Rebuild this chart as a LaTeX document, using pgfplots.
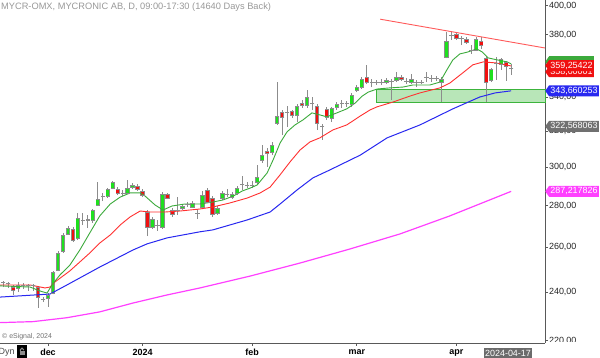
\documentclass[border=0pt]{standalone}
\usepackage{pgfplots}
\pgfplotsset{compat=1.18}
\usepackage{pgfplotstable}
\usepackage{fontspec}
\setmainfont{Liberation Sans}
\usetikzlibrary{shapes.symbols}
\definecolor{cgreen}{HTML}{1EE01E}
\definecolor{cred}{HTML}{F01010}
\definecolor{cgray}{HTML}{8C8C8C}
\definecolor{mamag}{HTML}{FF40FF}
\definecolor{mablue}{HTML}{2828F0}
\definecolor{mared}{HTML}{FF3030}
\definecolor{magreen}{HTML}{3CAA3C}
\definecolor{boxgreen}{HTML}{B8E6B8}
\definecolor{boxedge}{HTML}{3CB43C}
\definecolor{trend}{HTML}{FF5A5A}
\definecolor{lblgray}{HTML}{707070}

\pgfplotstableread{
x o h l c
-9 243.9 244.8 242.1 243.9
-8 243.5 244.3 241.7 243.5
-7 242.1 243.0 238.7 240.8
-6 241.7 244.3 239.9 243.0
-5 243.0 243.9 241.2 243.0
-4 242.6 243.5 240.4 242.6
-3 242.6 243.5 240.4 242.6
-2 242.1 242.6 233.3 237.8
-1 237.0 237.8 235.7 237.0
0 237.4 239.5 233.7 238.7
1 239.5 249.2 239.0 248.7
2 249.6 258.0 249.0 257.3
3 257.8 266.5 257.3 265.7
4 266.2 270.0 265.7 268.6
5 268.1 269.5 262.3 263.3
6 264.3 276.3 263.3 273.9
7 272.9 276.3 270.4 272.9
8 272.9 275.4 269.1 273.4
9 272.9 278.3 271.4 277.8
10 280.3 292.0 279.8 283.3
11 284.5 286.4 282.3 284.5
12 284.8 288.9 283.8 288.4
13 288.9 292.6 288.4 291.6
14 288.4 289.4 285.3 286.4
15 286.4 287.9 284.8 286.4
16 286.4 293.1 285.8 288.9
17 289.4 291.6 288.4 290.5
18 289.9 291.0 287.4 288.4
19 287.4 288.4 284.3 285.3
20 276.8 277.8 265.2 269.5
21 269.5 274.4 268.6 273.4
22 270.5 272.9 267.6 270.5
23 269.5 286.9 268.6 285.8
24 285.8 286.4 283.3 283.8
25 277.8 278.8 274.4 275.4
26 277.8 284.3 275.4 277.8
27 278.8 280.8 277.8 279.8
28 280.8 281.8 279.3 280.8
29 279.3 282.3 278.8 281.3
30 276.3 278.3 273.4 275.9
31 279.3 287.4 278.3 285.3
32 287.9 288.9 281.3 281.8
33 283.8 284.8 274.4 275.4
34 276.3 279.8 275.4 278.8
35 283.8 287.4 282.8 286.4
36 285.5 288.4 284.3 285.5
37 284.3 286.9 283.3 285.8
38 286.4 289.9 285.3 288.9
39 290.7 295.2 287.9 290.7
40 290.5 292.0 288.9 290.5
41 290.3 292.6 288.9 290.3
42 292.0 301.1 291.0 294.7
43 303.8 312.0 302.2 306.0
44 308.7 310.3 300.0 307.5
45 308.1 313.7 306.4 312.0
46 324.5 349.1 323.4 328.6
47 330.4 332.2 317.6 327.5
48 330.4 334.6 322.2 330.4
49 331.0 332.2 327.5 329.2
50 329.2 335.8 325.1 334.0
51 336.3 338.1 333.4 334.6
52 334.6 344.2 333.4 339.9
53 336.3 339.9 332.2 336.3
54 334.0 335.8 320.5 324.0
55 322.8 324.0 314.8 322.8
56 332.2 334.0 326.3 327.5
57 326.9 334.0 325.1 332.8
58 333.4 336.9 332.2 335.2
59 335.8 338.1 333.4 335.8
60 335.8 337.5 334.0 335.8
61 335.2 342.4 334.0 341.1
62 344.2 347.3 342.9 345.5
63 345.5 352.3 344.8 351.0
64 352.3 360.0 347.9 349.1
65 349.1 351.0 346.0 349.1
66 349.1 350.4 347.3 349.1
67 349.1 351.0 347.3 349.1
68 349.1 351.7 347.9 350.4
69 349.7 351.0 338.1 349.7
70 350.4 355.5 349.1 352.3
71 352.3 353.6 349.8 351.0
72 349.7 351.7 347.9 349.7
73 349.1 354.2 347.9 351.0
74 349.1 350.4 346.0 349.1
75 349.1 350.4 347.9 349.1
76 352.2 355.5 349.1 352.2
77 351.7 353.6 349.1 351.7
78 351.7 352.9 349.8 351.7
79 349.1 352.3 336.9 351.0
80 364.9 381.8 364.1 375.7
81 379.7 381.8 376.4 379.7
82 379.8 381.1 376.4 377.7
83 377.6 379.1 373.0 377.6
84 377.0 378.4 373.7 374.4
85 369.6 373.0 367.1 369.6
86 369.7 378.4 369.0 377.0
87 375.7 378.4 370.3 373.0
88 364.5 365.8 336.9 349.1
89 350.4 358.1 349.1 357.4
90 361.2 365.2 350.4 361.2
91 360.0 364.5 356.8 363.2
92 361.3 362.6 349.8 358.7
93 358.0 360.6 353.6 358.0
}\candles

\begin{document}
\begin{tikzpicture}
\useasboundingbox (0bp,0bp) rectangle (600bp,358bp);
\fill[white] (0bp,0bp) rectangle (600bp,358bp);
\begin{axis}[
  at={(0bp,15bp)}, anchor=south west,
  width=545bp, height=343bp, scale only axis,
  ymode=log,
  xmin=-9.64, xmax=99.8, ymin=219.1, ymax=404.2,
  axis x line*=bottom, axis y line*=right,
  axis line style={draw=black!65, line width=0.7bp},
  clip=false,
  /pgf/number format/assume math mode=true,
  ytick={220,240,260,280,300,320,340,360,380,400},
  yticklabels={{220,00},{240,00},{260,00},{280,00},{300,00},{320,00},{340,00},{360,00},{380,00},{400,00}},
  minor ytick={},
  xtick={0,19,41,62,82},
  xticklabels={dec,2024,feb,mar,apr},
  tick align=outside,
  major tick length=3bp,
  tick style={draw=black!65, line width=0.6bp},
  yticklabel style={font=\fontsize{9}{10}\selectfont, text=black!85, xshift=-2.5bp},
  xticklabel style={font=\bfseries\fontsize{9}{10}\selectfont, text=black},
]
% support zone
\addplot[fill=boxgreen, draw=boxedge, line width=0.8bp, forget plot]
  coordinates {(65.86,336.7) (99.8,336.7) (99.8,344.8) (65.86,344.8)} --cycle;

% wicks
\addplot[draw=none, mark=none, forget plot,
  error bars/.cd, y dir=plus, y explicit, error mark=none,
  error bar style={draw=cgray, line width=0.8bp}]
  table[x=x, y=l, y error plus expr={\thisrow{h}-\thisrow{l}}] {\candles};
% body outline
\addplot[draw=none, mark=none, forget plot,
  error bars/.cd, y dir=plus, y explicit, error mark=none,
  error bar style={draw=cgray, line width=4.4bp}]
  table[x=x, y expr={min(\thisrow{o},\thisrow{c})}, y error plus expr={abs(\thisrow{c}-\thisrow{o})}] {\candles};
% up bodies
\addplot[draw=none, mark=none, forget plot,
  error bars/.cd, y dir=plus, y explicit, error mark=none,
  error bar style={draw=cgreen, line width=2.8bp}]
  table[x=x, y=o, y error plus expr={max(\thisrow{c}-\thisrow{o},0)}] {\candles};
% down bodies
\addplot[draw=none, mark=none, forget plot,
  error bars/.cd, y dir=plus, y explicit, error mark=none,
  error bar style={draw=cred, line width=2.8bp}]
  table[x=x, y=c, y error plus expr={max(\thisrow{o}-\thisrow{c},0)}] {\candles};
% open / close caps
\addplot[only marks, mark=-, mark size=2.2bp, mark options={draw=cgray, line width=0.8bp}, forget plot]
  table[x=x, y=o] {\candles};
\addplot[only marks, mark=-, mark size=2.2bp, mark options={draw=cgray, line width=0.8bp}, forget plot]
  table[x=x, y=c] {\candles};

% 200-day average (magenta)
\addplot[mamag, line width=1.2bp, mark=none] coordinates {
(-9.64,227.2) (-3.0,227.6) (3.8,229.2) (10.4,231.6) (17.1,235.3) (23.9,238.7)
(30.5,241.7) (40.6,246.9) (50.6,252.7) (60.6,259.1) (70.7,266.2) (80.7,274.9) (93.0,287.2)};
% 50-day average (blue)
\addplot[mablue, line width=1bp, mark=none] coordinates {
(-9.64,237.8) (0.4,239.1) (3.8,243.0) (10.4,250.9) (17.1,258.7) (19.9,261.5) (23.9,264.3)
(30.5,267.2) (33.1,268.1) (40.0,272.9) (44.6,276.8) (46.6,280.8) (50.0,287.9) (53.2,294.2)
(56.6,298.4) (62.7,306.4) (68.1,316.0) (74.7,323.4) (81.3,332.8) (86.7,339.9) (89.8,342.4) (93.0,343.7)};
% 20-day average (red)
\addplot[mared, line width=0.9bp, mark=none] coordinates {
(-9.64,243.0) (-3.6,243.0) (-0.6,241.7) (0.4,242.1) (1.4,244.3) (4.4,249.2) (6.4,253.2)
(8.4,257.3) (10.4,261.9) (12.5,265.7) (14.5,270.5) (16.5,274.4) (18.5,277.3) (20.5,276.8)
(23.5,276.8) (26.5,277.3) (30.5,278.3) (33.1,279.3) (36.5,281.3) (40.0,283.8) (42.6,286.4)
(44.6,289.4) (46.6,295.8) (48.6,302.7) (50.6,309.2) (52.6,313.7) (54.6,316.0) (57.2,320.5)
(60.0,323.4) (62.7,328.6) (64.7,332.2) (66.1,334.0) (69.3,336.9) (72.7,340.5) (74.7,342.4)
(78.7,345.5) (80.7,348.5) (83.3,354.9) (85.3,360.0) (87.4,361.9) (89.8,361.3) (93.0,359.3)};
% 10-day average (green)
\addplot[magreen, line width=0.9bp, mark=none] coordinates {
(-9.64,242.6) (-3.6,242.1) (-1.6,240.4) (-0.2,239.5) (0.8,243.0) (2.4,247.4) (4.4,251.8)
(6.4,258.7) (8.4,266.7) (10.4,274.9) (12.5,280.8) (14.5,284.3) (16.5,286.4) (18.5,286.4)
(19.5,284.8) (21.5,280.3) (23.1,277.8) (24.9,279.8) (27.5,280.8) (30.5,280.8) (33.1,281.8)
(35.1,282.8) (37.2,284.8) (39.0,287.4) (40.6,288.9) (42.0,290.5) (44.0,296.8) (45.2,303.8)
(46.6,313.1) (48.0,319.4) (49.6,323.4) (51.2,326.3) (53.0,330.4) (54.6,329.2) (56.0,328.1)
(58.0,330.4) (60.0,332.8) (61.7,336.3) (63.1,340.5) (64.3,342.9) (66.1,344.8) (68.7,345.5)
(71.3,346.0) (73.3,347.3) (76.7,347.3) (78.7,349.1) (80.1,356.8) (81.3,363.2) (82.7,367.1)
(84.3,368.4) (86.1,370.4) (87.2,368.4) (88.4,364.5) (90.2,363.2) (92.2,361.9) (93.0,360.6)};
% resistance trend line
\addplot[trend, line width=0.9bp, mark=none] coordinates {(66.7,390.6) (99.8,371.0)};

% value labels on the price scale
\tikzset{vlab/.style={signal, signal to=west, signal pointer angle=110, text=white,
  inner xsep=1.2bp, inner ysep=1.2bp, anchor=west, minimum height=11bp,
  font=\fontsize{9}{9}\selectfont}}
\node[vlab, fill=lblgray] at (axis cs:99.8,322.57) {322,568063};
\node[vlab, fill=mamag] at (axis cs:99.8,287.22) {287,217826};
\node[vlab, fill=mablue] at (axis cs:99.8,343.66) {343,660253};
\node[vlab, fill=magreen] at (axis cs:99.8,362.0) {\phantom{359,25422}};
\node[vlab, fill=cred] at (axis cs:99.8,355.6) {358,00001};
\node[vlab, fill=cred] at (axis cs:99.8,359.6) {359,25422};
\end{axis}
% white strip hiding lower part of lowest tick label
\fill[white] (546.5bp,0bp) rectangle (600bp,15.8bp);
% title and notes
\node[anchor=north west, inner sep=0pt, text=black!40, font=\fontsize{9.3}{10}\selectfont] at (1bp,355bp) {MYCR-OMX, MYCRONIC AB, D, 09:00-17:30 (14640 Days Back)};
\node[anchor=west, inner sep=0pt, text=black!55, font=\fontsize{7}{8}\selectfont] at (2bp,21.5bp) {© eSignal, 2024};
\node[anchor=west, inner sep=0pt, text=black!70, font=\fontsize{9}{10}\selectfont] at (-1.5bp,6bp) {Dyn};
\fill[black] (17bp,0.5bp) rectangle (27bp,12.5bp);
\fill[black!45] (19.5bp,2.5bp) rectangle (24.5bp,6.5bp);
\draw[black!45, line width=1bp] (20.4bp,6.5bp) -- (20.4bp,8.3bp) arc (180:0:1.6bp) -- (23.6bp,7.6bp);
\node[fill=black!58, text=white, inner xsep=1.5bp, inner ysep=1.5bp, font=\fontsize{9}{10}\selectfont, anchor=south] at (508bp,0bp) {2024-04-17};
\end{tikzpicture}
\end{document}
